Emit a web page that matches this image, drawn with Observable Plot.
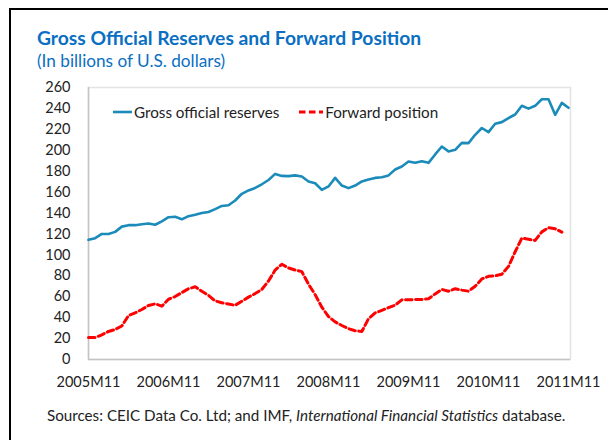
<!DOCTYPE html>
<html><head><meta charset="utf-8">
<script src="https://cdn.jsdelivr.net/npm/d3@7"></script>
<script src="https://cdn.jsdelivr.net/npm/@observablehq/plot@0.6"></script>
<style>
body{margin:0;background:#fff;width:608px;height:440px;overflow:hidden;position:relative;font-family:Lato,"Open Sans",sans-serif;}
#border{position:absolute;left:9px;top:8px;width:620px;height:460px;border-left:2px solid #000;border-top:2px solid #000;}
#title{position:absolute;left:37px;top:26px;font-weight:bold;font-size:19.3px;color:#0A6FC2;white-space:nowrap;}
#subtitle{position:absolute;left:37px;top:50px;font-size:17.2px;color:#0A6FC2;white-space:nowrap;}
#chart{position:absolute;left:0;top:70px;}
#legend{position:absolute;left:113px;top:103px;font-size:15.2px;color:#222;display:flex;align-items:center;white-space:nowrap;}
#legend .item{display:flex;align-items:center;margin-right:20px;}
#legend svg{margin-right:2px;}
#caption{position:absolute;left:47px;top:406px;font-size:15.2px;color:#222;white-space:nowrap;}
</style></head>
<body>
<div id="border"></div>
<div id="title">Gross Official Reserves and Forward Position</div>
<div id="subtitle">(In billions of U.S. dollars)</div>
<div id="chart"></div>
<div id="legend"></div>
<div id="caption">Sources: CEIC Data Co. Ltd; and IMF, <i>International Financial Statistics</i> database.</div>
<script>
const seriesNames = ["Gross official reserves", "Forward position"];
const seriesColors = ["#1B8BBA", "#FF0000"];
const tickLabels = ["2005M11","2006M11","2007M11","2008M11","2009M11","2010M11","2011M11"];
const yTicks = [0,20,40,60,80,100,120,140,160,180,200,220,240,260];
// monthly values from 2005M11
const reserves = [114.4,116,120,120,122,127,128.4,128.4,129.3,130,128.8,132,136,136.4,134,137,138.3,140,141,143.7,146.8,147.5,152,158.4,161.6,164,167.5,171.6,177.4,175.5,175.3,176,175,170.2,168.5,162.1,165.4,173.6,166.3,163.8,166.3,170.2,172,173.6,174.2,176,181.6,184.5,189.3,188,189.6,188,196,203.6,198.9,200.4,207.1,206.8,214.8,221.3,217.4,225.3,226.9,230.8,234.2,242.5,239.8,242.5,248.8,248.8,233.9,245.3,240.6];
const forward = [21,21,23.6,26.8,28.7,32,42,44.6,47.8,51.6,53.2,51,57.6,60.2,64,67.6,69.5,65.2,61.2,56,54.2,53,51.8,55.7,59.6,63,67,75,85.5,91,87.5,85.5,84,72,62,50,41,36,32.5,29.5,27.5,26.8,39,44.5,47,49.5,52,57,57,57.3,57.4,58,62.7,67,65.3,67.6,66.3,65.3,70,77,79.5,80,81.5,89,103,116,115,113.8,122,126,125,121.7];

const resData = reserves.map((v,i)=>({m:i,v}));
const fwdData = forward.map((v,i)=>({m:i,v}));
const xTicks = tickLabels.map((_,i)=>i*12);

const chart = Plot.plot({
  width: 608, height: 330,
  marginLeft: 88, marginRight: 38, marginTop: 17, marginBottom: 41,
  style:{fontFamily:"Lato, 'Open Sans', sans-serif", fontSize:"14.5px", color:"#222", background:"transparent"},
  x:{domain:[0,72.3], ticks:xTicks, tickFormat:d=>tickLabels[d/12], tickSize:0, tickPadding:17, label:null},
  y:{domain:[0,260], ticks:yTicks, tickSize:0, tickPadding:18, label:null},
  marks:[
    Plot.frame({stroke:"#E3E3E3", strokeWidth:1.5}),
    Plot.ruleY([0],{stroke:"#C4C4C4", strokeWidth:1.5}),
    Plot.ruleX([0],{stroke:"#C4C4C4", strokeWidth:1.5}),
    Plot.lineY(fwdData,{x:"m",y:"v",stroke:seriesColors[1],strokeWidth:3,strokeDasharray:"6.5,3.5"}),
    Plot.lineY(resData,{x:"m",y:"v",stroke:seriesColors[0],strokeWidth:2.6})
  ]
});
document.getElementById("chart").appendChild(chart);

const legend = document.getElementById("legend");
seriesNames.forEach((name,i)=>{
  const item = document.createElement("div");
  item.className="item";
  const dash = i===1 ? 'stroke-dasharray="6.5,3.5"' : '';
  const w = i===1 ? 24 : 19;
  item.innerHTML = `<svg width="${w}" height="10"><line x1="0" y1="5" x2="${w}" y2="5" stroke="${seriesColors[i]}" stroke-width="${i===1?3:2.6}" ${dash}/></svg><span>${name}</span>`;
  legend.appendChild(item);
});
</script>
</body></html>
